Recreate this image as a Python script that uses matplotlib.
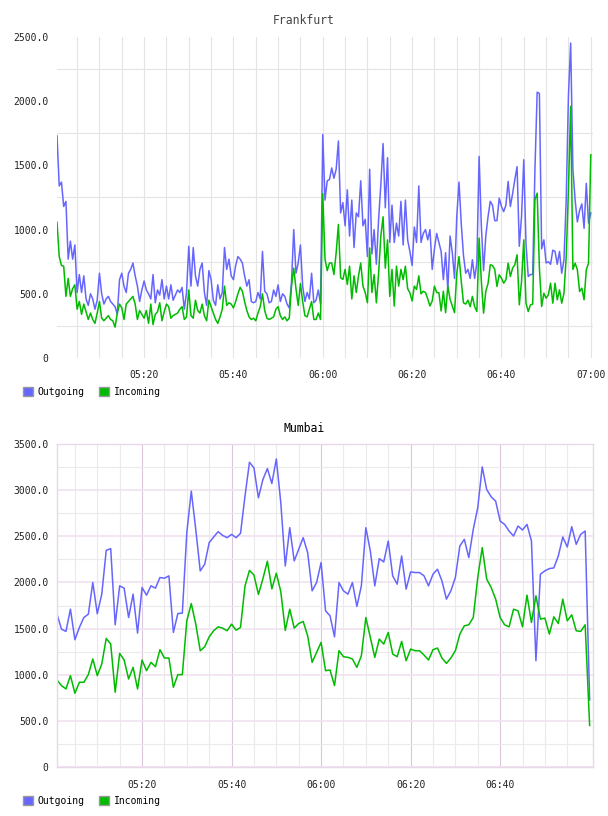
import numpy as np
import matplotlib
matplotlib.use("Agg")
import matplotlib.pyplot as plt
import matplotlib.dates as mdates
from matplotlib.ticker import FixedLocator, FuncFormatter
from matplotlib.patches import Patch

plt.rcParams['font.family'] = ['DejaVu Sans Mono']

# Frankfurt, one sample every 30 s from 05:00:30
fra_start = np.datetime64('2020-01-01T05:00:30')
fra_outgoing = [
    1730, 1340, 1370, 1180, 1220, 770, 910, 770, 880, 510,
    650, 510, 640, 460, 410, 500, 460, 380, 450, 660,
    500, 420, 460, 480, 440, 420, 400, 340, 610, 660,
    560, 510, 660, 690, 740, 640, 560, 440, 530, 600,
    530, 500, 460, 650, 430, 530, 490, 610, 460, 560,
    460, 570, 450, 490, 530, 510, 550, 380, 510, 870,
    560, 860, 640, 560, 690, 740, 510, 410, 680, 610,
    450, 410, 570, 460, 510, 860, 690, 770, 640, 610,
    720, 790, 770, 740, 640, 560, 610, 440, 430, 440,
    510, 460, 830, 520, 500, 430, 440, 530, 480, 570,
    440, 500, 480, 420, 390, 590, 1000, 660, 740, 880,
    560, 440, 510, 460, 660, 430, 450, 530, 420, 1740,
    1230, 1380, 1390, 1480, 1400, 1470, 1690, 1130, 1210, 1030,
    1310, 950, 1230, 860, 1130, 1100, 1380, 1030, 1080, 790,
    1470, 810, 1000, 730, 1080, 1350, 1670, 1170, 1560, 900,
    1190, 900, 1050, 950, 1220, 880, 1230, 920, 830, 720,
    1020, 900, 1340, 900, 970, 1000, 920, 1000, 690, 850,
    970, 900, 830, 610, 820, 530, 950, 820, 620, 1100,
    1370, 1050, 800, 660, 690, 620, 765, 620, 740, 1570,
    1030, 680, 950, 1100, 1220, 1190, 1070, 1070, 1245, 1180,
    1140, 1190, 1375, 1180, 1280, 1390, 1490, 870, 1100, 1544,
    890, 635, 650, 650, 1466, 2070, 2060, 850, 920, 740,
    750, 730, 840, 830, 730, 830, 660, 765, 1230, 2040,
    2453, 1470, 1230, 1060, 1150, 1200, 1010, 1360, 1050, 1130,
]
fra_incoming = [
    1057, 790, 720, 715, 480, 620, 480, 540, 570, 380,
    440, 340, 420, 360, 300, 350, 300, 270, 350, 440,
    310, 290, 310, 330, 300, 290, 240, 350, 420, 390,
    300, 420, 440, 460, 480, 420, 300, 370, 340, 310,
    370, 270, 420, 260, 340, 360, 430, 290, 360, 420,
    400, 310, 330, 340, 350, 380, 400, 300, 320, 530,
    330, 310, 450, 370, 350, 420, 330, 290, 450, 400,
    350, 300, 270, 320, 380, 560, 410, 430, 420, 390,
    440, 500, 550, 520, 440, 370, 320, 300, 310, 290,
    350, 400, 500, 370, 310, 300, 310, 320, 380, 400,
    330, 300, 320, 290, 310, 560, 700, 540, 410, 580,
    440, 330, 320, 380, 440, 300, 300, 350, 300, 1280,
    770, 680, 740, 740, 650, 820, 1040, 625, 612, 690,
    573, 715, 460, 640, 510, 640, 740, 560, 510, 430,
    857, 510, 650, 430, 660, 950, 1100, 700, 920, 480,
    690, 405, 715, 560, 690, 610, 715, 540, 508, 444,
    560, 534, 640, 500, 520, 510, 460, 405, 444, 560,
    510, 508, 366, 520, 353, 560, 457, 405, 353, 660,
    790, 600, 430, 420, 450, 400, 480, 400, 362, 933,
    600, 349, 520, 580, 726, 720, 690, 557, 648, 622,
    583, 610, 739, 635, 700, 726, 804, 414, 596, 920,
    427, 362, 414, 420, 1232, 1284, 700, 401, 505, 466,
    492, 583, 427, 583, 453, 531, 427, 505, 790, 1310,
    1960, 690, 739, 687, 518, 544, 453, 687, 739, 1583,
]

# Mumbai, one sample per minute from 05:01
mum_start = np.datetime64('2020-01-01T05:01:00')
mum_outgoing = [
    1656, 1494, 1469, 1710, 1379, 1512, 1620, 1656, 1999, 1660,
    1873, 2348, 2366, 1541, 1963, 1938, 1620, 1873, 1451, 1945,
    1862, 1963, 1938, 2053, 2046, 2071, 1458, 1663, 1667, 2539,
    2989, 2575, 2125, 2197, 2431, 2492, 2550, 2510, 2485, 2521,
    2485, 2532, 2935, 3302, 3241, 2917, 3115, 3234, 3072, 3338,
    2863, 2179, 2593, 2233, 2359, 2485, 2323, 1909, 1999, 2215,
    1692, 1638, 1411, 1999, 1909, 1873, 1999, 1740, 1963, 2593,
    2341, 1963, 2258, 2222, 2449, 2071, 1981, 2287, 1927, 2114,
    2107, 2107, 2071, 1963, 2089, 2143, 2017, 1819, 1909, 2053,
    2395, 2467, 2269, 2575, 2809, 3252, 3007, 2928, 2881, 2665,
    2629, 2557, 2503, 2611, 2568, 2629, 2449, 1152, 2089, 2125,
    2150, 2157, 2287, 2492, 2384, 2604, 2413, 2521, 2557, 727,
]
mum_incoming = [
    943, 882, 846, 990, 799, 918, 918, 1001, 1170, 990,
    1116, 1393, 1332, 810, 1231, 1159, 954, 1080, 846, 1159,
    1044, 1134, 1087, 1271, 1181, 1181, 864, 1001, 1001, 1584,
    1771, 1548, 1260, 1303, 1411, 1476, 1519, 1505, 1476, 1548,
    1483, 1512, 1960, 2130, 2080, 1870, 2040, 2230, 1930, 2100,
    1900, 1480, 1710, 1505, 1555, 1577, 1422, 1134, 1242, 1350,
    1044, 1051, 882, 1260, 1195, 1188, 1170, 1080, 1206, 1620,
    1404, 1188, 1386, 1332, 1458, 1224, 1195, 1361, 1152, 1278,
    1260, 1260, 1213, 1159, 1271, 1289, 1181, 1123, 1181, 1260,
    1440, 1530, 1541, 1620, 2053, 2377, 2035, 1945, 1819, 1620,
    1541, 1519, 1710, 1692, 1519, 1862, 1566, 1855, 1602, 1613,
    1440, 1627, 1555, 1819, 1584, 1649, 1476, 1469, 1541, 450,
]

blue = '#6666ff'
green = '#00bb00'

fra_t = fra_start + np.arange(len(fra_outgoing)) * np.timedelta64(30, 's')
mum_t = mum_start + np.arange(len(mum_outgoing)) * np.timedelta64(1, 'm')

fig = plt.figure(figsize=(6.08, 8.16), dpi=100)
ax1 = fig.add_axes([57 / 608, 1 - 358 / 816, 536 / 608, 321 / 816])
ax2 = fig.add_axes([57 / 608, 1 - 767 / 816, 536 / 608, 323 / 816])

yfmt = FuncFormatter(lambda v, p: '0' if v == 0 else '%.1f' % v)


def base_style(ax):
    ax.xaxis.set_major_formatter(mdates.DateFormatter('%H:%M'))
    ax.yaxis.set_major_formatter(yfmt)
    ax.tick_params(which='both', length=0, labelsize=7, colors='#222222')
    ax.tick_params(axis='y', pad=6)
    ax.tick_params(axis='x', pad=9)
    ax.set_axisbelow(True)


# Frankfurt
ax1.plot(fra_t, fra_outgoing, color=blue, lw=1.1)
ax1.plot(fra_t, fra_incoming, color=green, lw=1.1)
ax1.set_xlim(np.datetime64('2020-01-01T05:00:30'), np.datetime64('2020-01-01T07:00:30'))
ax1.set_ylim(0, 2500)
base_style(ax1)
ax1.xaxis.set_major_locator(mdates.MinuteLocator(byminute=[0, 20, 40]))
ax1.xaxis.set_minor_locator(mdates.MinuteLocator(byminute=range(0, 60, 5)))
ax1.yaxis.set_major_locator(FixedLocator([0, 500, 1000, 1500, 2000, 2500]))
ax1.yaxis.set_minor_locator(FixedLocator([250, 750, 1250, 1750, 2250]))
ax1.grid(True, which='minor', color='#e4e4e4', lw=0.8)
ax1.grid(True, axis='x', which='major', color='#e4e4e4', lw=0.8)
for s in ax1.spines.values():
    s.set_visible(False)

# Mumbai
ax2.plot(mum_t, mum_outgoing, color=blue, lw=1.1)
ax2.plot(mum_t, mum_incoming, color=green, lw=1.1)
ax2.set_xlim(np.datetime64('2020-01-01T05:01:00'), np.datetime64('2020-01-01T07:00:45'))
ax2.set_ylim(0, 3500)
base_style(ax2)
ax2.xaxis.set_major_locator(FixedLocator(mdates.date2num(
    [np.datetime64('2020-01-01T05:20'), np.datetime64('2020-01-01T05:40'),
     np.datetime64('2020-01-01T06:00'), np.datetime64('2020-01-01T06:20'),
     np.datetime64('2020-01-01T06:40')])))
ax2.xaxis.set_minor_locator(mdates.MinuteLocator(byminute=[5, 10, 15, 25, 30, 35, 45, 50, 55]))
ax2.yaxis.set_major_locator(FixedLocator(np.arange(0, 3501, 500)))
ax2.yaxis.set_minor_locator(FixedLocator(np.arange(250, 3500, 500)))
ax2.grid(True, axis='x', which='major', color='#dcc6dc', lw=0.8)
ax2.grid(True, axis='y', which='major', color='#f0e2f0', lw=1.2)
ax2.grid(True, which='minor', color='#eaeaea', lw=0.8)
for s in ax2.spines.values():
    s.set_color('#ead8ea')
    s.set_linewidth(1.0)

fig.text(304 / 608, 1 - 20 / 816, 'Frankfurt', ha='center', va='center', fontsize=8.3, color='#444444')
fig.text(304 / 608, 1 - 429 / 816, 'Mumbai', ha='center', va='center', fontsize=8.3, color='black')

handles = [Patch(facecolor=blue, edgecolor='#999999', label='Outgoing'),
           Patch(facecolor=green, edgecolor='#999999', label='Incoming')]
for ytop in (387, 796):
    fig.legend(handles=handles, loc='upper left', bbox_to_anchor=(23 / 608, 1 - ytop / 816),
               ncol=2, frameon=False, prop={'size': 7}, handlelength=1.0, handleheight=1.0,
               handletextpad=0.5, columnspacing=1.5, borderpad=0, borderaxespad=0)

fig.savefig('out.png', dpi=100)
